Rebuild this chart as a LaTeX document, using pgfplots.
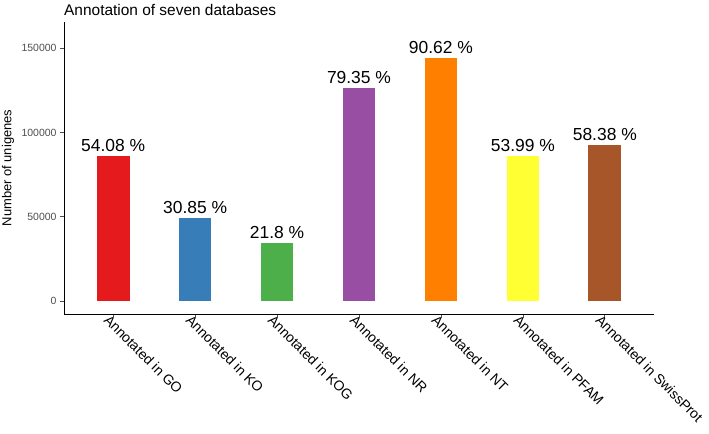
\documentclass[border=0pt]{standalone}
\usepackage{fontspec}
\setmainfont{Liberation Sans}
\usepackage{pgfplots}
\pgfplotsset{compat=1.18}
\definecolor{s1}{HTML}{E41A1C}
\definecolor{s2}{HTML}{377EB8}
\definecolor{s3}{HTML}{4DAF4A}
\definecolor{s4}{HTML}{984EA3}
\definecolor{s5}{HTML}{FF7F00}
\definecolor{s6}{HTML}{FFFF33}
\definecolor{s7}{HTML}{A65628}
\definecolor{tickgray}{HTML}{4D4D4D}
\begin{document}
\begin{tikzpicture}
\begin{axis}[
  at={(0,0)}, anchor=south west,
  scale only axis, width=590bp, height=292bp,
  xmin=-0.6, xmax=6.6, ymin=-7700, ymax=165500,
  axis lines*=left,
  axis line style={black, line width=0.8bp},
  ybar, bar width=0.4,
  xtick={0,1,2,3,4,5,6},
  xticklabels={Annotated in GO, Annotated in KO, Annotated in KOG, Annotated in NR, Annotated in NT, Annotated in PFAM, Annotated in SwissProt},
  ytick={0,50000,100000,150000},
  yticklabels={0,50000,100000,150000},
  scaled y ticks=false,
  tick style={tickgray, line width=0.7bp},
  tick align=outside, major tick length=4bp,
  yticklabel style={font=\fontsize{10.5}{12}\selectfont, text=tickgray},
  xticklabel style={font=\fontsize{14}{15}\selectfont, text=black, rotate=-45, anchor=north west, inner sep=0pt, xshift=-5bp, yshift=1bp},
  nodes near coords, point meta=explicit symbolic,
  nodes near coords style={font=\fontsize{17.5}{19}\selectfont, text=black, anchor=south, inner sep=0pt, yshift=4bp},
  title={Annotation of seven  databases},
  title style={at={([yshift=1bp]rel axis cs:0,1)}, anchor=base west, font=\fontsize{15.5}{17}\selectfont, inner sep=0pt},
  ylabel={Number of unigenes},
  ylabel style={at={([xshift=-56bp]rel axis cs:0,0.5)}, anchor=center, font=\fontsize{13}{15}\selectfont},
  clip=false,
]
\coordinate (ll) at (rel axis cs:0,0);
\addplot[fill=s1, draw=none, bar shift=0pt] coordinates {(0,85990) [54.08 \%]};
\addplot[fill=s2, draw=none, bar shift=0pt] coordinates {(1,49050) [30.85 \%]};
\addplot[fill=s3, draw=none, bar shift=0pt] coordinates {(2,34660) [21.8 \%]};
\addplot[fill=s4, draw=none, bar shift=0pt] coordinates {(3,126170) [79.35 \%]};
\addplot[fill=s5, draw=none, bar shift=0pt] coordinates {(4,144090) [90.62 \%]};
\addplot[fill=s6, draw=none, bar shift=0pt] coordinates {(5,85840) [53.99 \%]};
\addplot[fill=s7, draw=none, bar shift=0pt] coordinates {(6,92820) [58.38 \%]};
\end{axis}
\pgfresetboundingbox
\path[use as bounding box] ([xshift=-64bp,yshift=-120bp]ll) rectangle ([xshift=645bp,yshift=314bp]ll);
\end{tikzpicture}
\end{document}
